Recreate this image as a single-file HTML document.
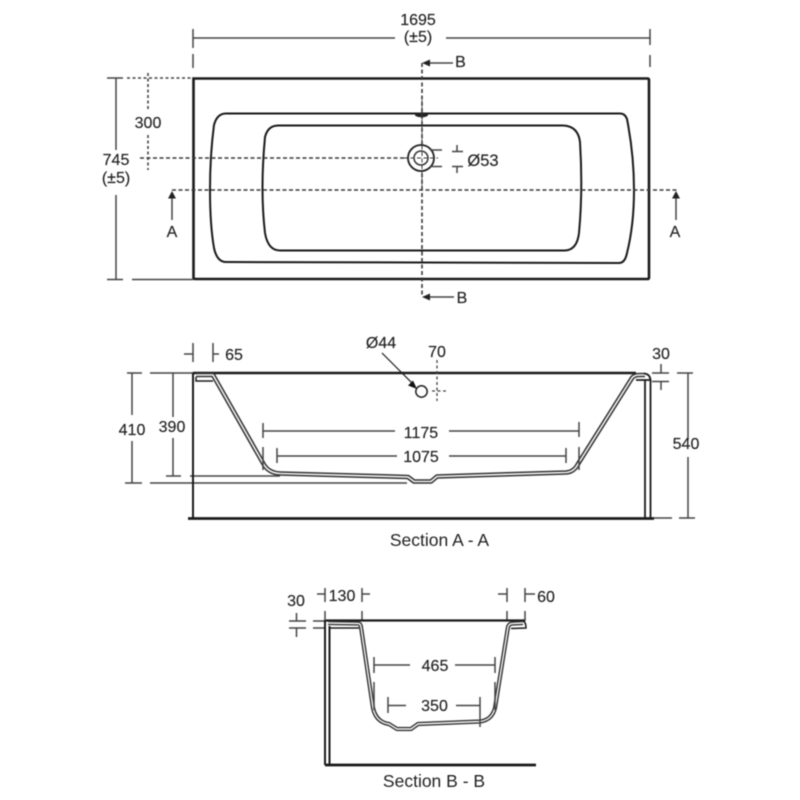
<!DOCTYPE html>
<html>
<head>
<meta charset="utf-8">
<style>
html,body{margin:0;padding:0;background:#fff;width:800px;height:800px;overflow:hidden}
svg{display:block}
text{font-family:"Liberation Sans",sans-serif;font-size:16px;fill:#222;text-anchor:middle;stroke:#222;stroke-width:.15}
.d{stroke:#444;stroke-width:1.5;fill:none}
.k{stroke:#1a1a1a;fill:none}
.dash{stroke:#3a3a3a;stroke-width:1.6;fill:none;stroke-dasharray:4 2.5}
.dot{stroke:#444;stroke-width:1.6;fill:none;stroke-dasharray:3 2.5}
.po{stroke:#333;stroke-width:4.6;fill:none;stroke-linejoin:round}
.pi{stroke:#f4f4f4;stroke-width:1.6;fill:none;stroke-linejoin:round}
</style>
</head>
<body>
<svg width="800" height="800" viewBox="0 0 800 800" xmlns="http://www.w3.org/2000/svg">
<g style="filter:blur(0.45px)">
<!-- PLAN -->
<path class="d" d="M193 29V48M193 38H395M446 38H650M650 29V45M193 54V68M650 55V67"/>
<text x="418" y="25">1695</text>
<text x="418" y="42">(±5)</text>

<path class="k" stroke-width="2.6" d="M193.5 78.5H647.5Q649 78.5 649 80V277.5Q649 279 647.5 279H195Q193.5 279 193.5 277.5Z"/>
<path class="k" stroke-width="2" stroke="#222" d="M226 113.5H620Q625 113.5 627 119Q634 155 634 190Q634 225 627 253Q625 263 619 263L226 262Q217 262 214 248Q210 225 210 190Q210 155 214 125Q217 113.5 226 113.5Z"/>
<path class="k" stroke-width="2" d="M278 125.5H563Q578 126 580 142Q583 190 579 233Q577 250 565 250.5L280 250.5Q268 250.5 265 233Q260 190 265 137Q268 125.5 278 125.5Z"/>

<path class="d" d="M107 78H123M107 279.5H123M116 78V150M116 195V279.5M132 279.5H193"/>
<path class="dot" d="M127 78H193M148 73V110M148 135V170"/>
<text x="148" y="128">300</text>
<text x="116" y="165">745</text>
<text x="116" y="183">(±5)</text>
<path class="dash" d="M140 158H408M172 190H677M422 63V297"/>

<path class="d" d="M172 196V220M676 196V220"/>
<path d="M172 191l-4 7.5h8zM676 191l-4 7.5h8z" fill="#222"/>
<text x="172" y="237">A</text>
<text x="675" y="237">A</text>

<path class="d" d="M430 63H453M430 297H454"/>
<path d="M422 63l8-3.5v7zM422 297l8-3.5v7z" fill="#222"/>
<text x="460.500" y="67">B</text>
<text x="462" y="303">B</text>

<ellipse cx="421.500" cy="115" rx="6.500" ry="2.300" fill="#222"/>
<circle cx="421" cy="158" r="13" fill="#fff" stroke="#222" stroke-width="1.8"/>
<circle cx="421" cy="158" r="7" fill="none" stroke="#333" stroke-width="1.5"/>
<path class="dash" style="stroke-width:1" d="M422 100V190M404 158H438"/>
<path class="d" d="M430 150H442M430 166.500H442M452 151.500H463M452 166.500H463M457 145V151.500M457 166.500V173"/>
<text x="483" y="166" style="font-size:16.5px">Ø53</text>

<!-- SECTION A-A -->
<path class="d" d="M193 343V362M184 354H193M213 343V362M213 354H219M127 373H142M150 373H194M125 483H142M150 483H407M166 476H181M190 476H280"/>
<text x="234" y="360">65</text>
<path class="d" d="M132 373V415M132 441V483M173 373V417M173 438V476"/>
<text x="132" y="435">410</text>
<text x="172" y="432">390</text>
<path class="k" stroke-width="2.400" d="M193 373H636"/>
<path class="k" stroke-width="2" d="M193 373V518"/>
<path class="k" stroke-width="2.800" d="M188 518.500H654"/>
<path class="d" d="M654 518H672M679 518H695M688 373V440M688 457V518M677 373H693"/>
<text x="686" y="449">540</text>

<path class="po" d="M196 375H213L263 463Q268 473 280 473.500L408 477L414 481.500H431L437 476.500L566 472.500Q574 472 578 464L632 378Q634 375 640 375L645 375"/>
<path class="pi" d="M196 375H213L263 463Q268 473 280 473.500L408 477L414 481.500H431L437 476.500L566 472.500Q574 472 578 464L632 378Q634 375 640 375L645 375"/>
<path class="k" stroke-width="1.500" d="M196 377V381H213"/>
<path class="k" stroke-width="1.800" stroke="#222" d="M644 373.500Q650 374 650.500 380V518M645 380V518M636 380H650"/>

<text x="381" y="348">Ø44</text>
<path class="k" stroke-width="1.200" d="M382 353L413 384"/>
<path d="M417 389l-9-3.500 5-5z" fill="#111"/>
<circle cx="421.500" cy="391.500" r="5.700" fill="#fff" stroke="#222" stroke-width="1.500"/>
<path class="dot" style="stroke-width:1.300" d="M437 360V401M432 391H447"/>
<text x="437" y="357">70</text>
<text x="661" y="359">30</text>
<path class="d" d="M661 364V373M652 373H669M652 381.500H669M661 381.500V390"/>

<path class="d" d="M263 423V438M263 431H395M579 422V437M449 431H579M263 447V470M579 447V470M277 448V463M277 456H397M566 448V463M449 456H566"/>
<text x="421" y="438">1175</text>
<text x="421" y="462">1075</text>

<text x="439.500" y="546" style="font-size:17.500px;stroke-width:0">Section A - A</text>

<!-- SECTION B-B -->
<path class="d" d="M325 588V602M317 594H325M362 588V602M362 594H370M507 588V602M498 594H507M525 588V602M525 594H535M325 611V621M362 611V621M507 611V621M525 611V621"/>
<text x="342" y="601">130</text>
<text x="546" y="602">60</text>
<text x="296" y="606">30</text>
<path class="d" d="M296.500 613V621M289 621H306M289 628H306M296.500 628V637M313 621H325M313 628H325"/>

<path class="k" stroke-width="2.200" d="M326 620.500H525"/>
<path class="k" stroke-width="2" d="M325 620V765M329.500 626V765"/>
<path class="k" stroke-width="2.800" d="M325 765H536"/>

<path class="po" style="stroke-width:4.200" d="M328 623L358 623.500Q360.500 623.500 361 627L373 708Q376 722 389 724L397 729H411L418 724L480 721.500Q492 720 495 708L508 627Q509 623.500 513 623.500L523 623"/>
<path class="pi" style="stroke-width:1.400" d="M328 623L358 623.500Q360.500 623.500 361 627L373 708Q376 722 389 724L397 729H411L418 724L480 721.500Q492 720 495 708L508 627Q509 623.500 513 623.500L523 623"/>
<path class="k" stroke-width="1.500" stroke="#333" d="M523 621Q526 622 526 628L511 628.500M330 628H359"/>

<path class="d" d="M374 657V673M374 665H410M495 657V673M455 665H495M374 682V710M495 682V710M388 697V713M388 705.500H406M480 697V727M456 705.500H480"/>
<text x="435" y="671">465</text>
<text x="434.500" y="711">350</text>

<text x="434" y="787" style="font-size:17.500px;stroke-width:0">Section B - B</text>
</g>
</svg>
</body>
</html>
